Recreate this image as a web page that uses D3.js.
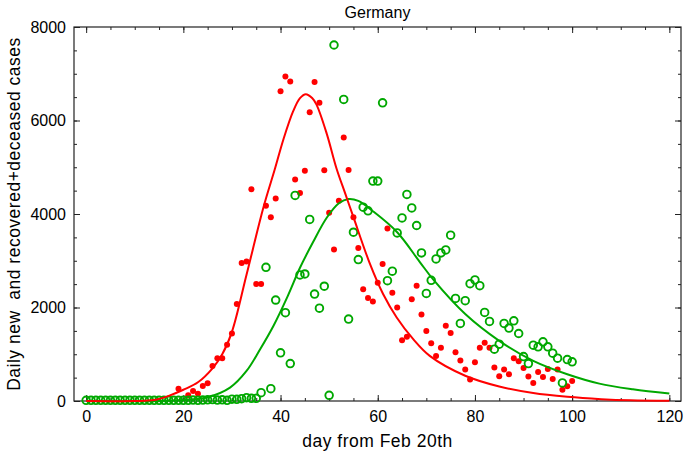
<!DOCTYPE html>
<html>
<head>
<meta charset="utf-8">
<script src="https://cdn.jsdelivr.net/npm/d3@7"></script>
<style>
body { margin: 0; background: #fff; }
text { font-family: "Liberation Sans", Arial, sans-serif; }
</style>
</head>
<body>
<script>
// daily new cases (red dots)
var newDays = [19, 21, 22, 23, 24, 25, 26, 27, 28, 29, 30, 31, 32, 33, 34, 35, 36, 37, 38, 39,
    40, 41, 42, 43, 44, 45, 46, 47, 48, 49, 50, 51, 52, 53, 54, 55, 56, 57, 58, 59,
    60, 61, 62, 63, 64, 65, 66, 67, 68, 69, 70, 71, 72, 73, 74, 75, 76, 77, 78, 79,
    80, 81, 82, 83, 84, 85, 86, 87, 88, 89, 90, 91, 92, 93, 94, 95, 96, 97, 98, 99, 100];
var newCases = [264, 122, 214, 157, 322, 379, 751, 915, 915, 1201, 1444, 2073, 2954, 2982, 4530, 2503, 2503, 4176, 3932, 4330,
    6628, 6943, 6836, 4740, 4447, 4926, 6178, 6821, 6378, 4934, 4026, 3239, 4283, 5635, 4941, 3932, 3275, 2388, 2203, 2130,
    2531, 2932, 3689, 2317, 2002, 1302, 1373, 2174, 2467, 1851, 1495, 1237, 965, 1137, 1609, 1452, 1044, 865, 672, 458,
    829, 1137, 1244, 1137, 715, 529, 672, 572, 915, 851, 708, 522, 386, 622, 515, 686, 472, 672, 243, 315, 429];

// recovered + deceased (green circles)
var recDays = d3.range(0, 51).concat([51, 53, 54, 55, 56, 57, 58, 59,
    60, 61, 62, 63, 64, 65, 66, 67, 68, 69, 70, 71, 72, 73, 74, 75, 76, 77, 78, 79,
    80, 81, 82, 83, 84, 85, 86, 87, 88, 89, 90, 91, 92, 93, 94, 95, 96, 97, 98, 99, 100]);
var recCases = [15, 15, 15, 15, 15, 15, 15, 15, 15, 15, 15, 15, 15, 15, 15, 15, 15, 15, 15, 15,
    15, 15, 20, 15, 20, 25, 30, 20, 25, 15, 40, 36, 50, 72, 57, 57, 178, 2860, 264, 2160,
    1030, 1890, 800, 4397, 2696, 2717, 3885, 2288, 1985, 2455, 122,
    7615, 6450, 1752, 3610, 3025, 4147, 4068, 4704,
    4704, 6378, 2574, 2778, 3596, 3915, 4419, 4130, 3754, 3167, 2302, 2581, 3039, 3167, 3232, 3546, 2195, 1659, 2145, 2510,
    2589, 2467, 1895, 1702, 1108, 1216, 1659, 1559, 1716, 1444, 951, 801, 1194, 1158, 1266, 1158, 1023, 915, 386, 887, 837];

// fitted curves
var newFitDays = [0, 10, 14, 17, 20, 23, 26, 28, 30, 33, 36.5, 38.8, 40.6, 42.6, 44, 45.2, 46.5, 47.4, 49.5, 51.5, 53.3, 55,
    58.4, 61.1, 63.9, 67.3, 70.7, 78, 85, 92, 99, 106, 112, 120];
var newFitVals = [0, 0, 20, 110, 240, 400, 700, 1000, 1480, 2700, 4150, 4950, 5600, 6200, 6480, 6564, 6480, 6340, 5720, 4980, 4440, 3932,
    2932, 2288, 1787, 1323, 965, 540, 310, 170, 90, 40, 15, 5];
var recFitDays = [0, 15, 20, 25, 29.6, 33, 35.8, 38.5, 41.5, 44, 46.7, 49.5, 52, 54, 56, 59, 64, 68.7, 71.4, 78, 85,
    92, 99, 105.6, 112.5, 120];
var recFitVals = [0, 0, 20, 80, 286, 643, 1108, 1600, 2250, 2850, 3400, 3920, 4230, 4320, 4280, 4060, 3610, 2967, 2600, 1860, 1287,
    858, 572, 372, 250, 158];

var xTicks = [0, 20, 40, 60, 80, 100, 120],
    yTicks = [0, 2000, 4000, 6000, 8000];

var w = 685,
    h = 458,
    padLeft = 74,
    padRight = 681,
    padTop = 27,
    padBottom = 401,
    red = "#ff0000",
    green = "#00a800";

var svg = d3.select("body")
    .append("svg")
    .attr("width", w)
    .attr("height", h);

var x = d3.scaleLinear().domain([-2.5, 122.4]).range([padLeft, padRight]);
var y = d3.scaleLinear().domain([0, 8000]).range([padBottom, padTop]);

var minorX = d3.range(0, 125, 5),
    minorY = d3.range(0, 8001, 500);

function noLabel() { return ""; }

// minor ticks on all four sides
svg.append("g").attr("transform", "translate(0," + padBottom + ")")
    .call(d3.axisBottom(x).tickValues(minorX).tickSize(-3).tickFormat(noLabel));
svg.append("g").attr("transform", "translate(0," + padTop + ")")
    .call(d3.axisTop(x).tickValues(minorX).tickSize(-3).tickFormat(noLabel));
svg.append("g").attr("transform", "translate(" + padLeft + ",0)")
    .call(d3.axisLeft(y).tickValues(minorY).tickSize(-3).tickFormat(noLabel));
svg.append("g").attr("transform", "translate(" + padRight + ",0)")
    .call(d3.axisRight(y).tickValues(minorY).tickSize(-3).tickFormat(noLabel));

// major ticks with labels
svg.append("g").attr("transform", "translate(0," + padBottom + ")")
    .call(d3.axisBottom(x).tickValues(xTicks).tickSize(-6).tickPadding(10).tickFormat(d3.format("d")));
svg.append("g").attr("transform", "translate(0," + padTop + ")")
    .call(d3.axisTop(x).tickValues(xTicks).tickSize(-6).tickFormat(noLabel));
svg.append("g").attr("transform", "translate(" + padLeft + ",0)")
    .call(d3.axisLeft(y).tickValues(yTicks).tickSize(-6).tickPadding(8).tickFormat(d3.format("d")));
svg.append("g").attr("transform", "translate(" + padRight + ",0)")
    .call(d3.axisRight(y).tickValues(yTicks).tickSize(-6).tickFormat(noLabel));

svg.selectAll(".domain").remove();
svg.selectAll(".tick line").attr("stroke", "#222").attr("stroke-width", 1);
svg.selectAll(".tick text")
    .attr("font-family", "'Liberation Sans', Arial, sans-serif")
    .attr("font-size", "16px")
    .attr("fill", "#000");

// frame
svg.append("rect")
    .attr("x", padLeft)
    .attr("y", padTop)
    .attr("width", padRight - padLeft)
    .attr("height", padBottom - padTop)
    .attr("fill", "none")
    .attr("stroke", "#222")
    .attr("stroke-width", 1.2);

var plot = svg.append("g");

plot.selectAll("circle.new")
    .data(newDays)
    .enter()
    .append("circle")
    .attr("class", "new")
    .attr("cx", function (d) { return x(d); })
    .attr("cy", function (d, i) { return y(newCases[i]); })
    .attr("r", 3)
    .attr("fill", red);

plot.selectAll("circle.rec")
    .data(recDays)
    .enter()
    .append("circle")
    .attr("class", "rec")
    .attr("cx", function (d) { return x(d); })
    .attr("cy", function (d, i) { return y(recCases[i]); })
    .attr("r", 3.8)
    .attr("fill", "none")
    .attr("stroke", green)
    .attr("stroke-width", 1.9);

var line = d3.line()
    .x(function (d) { return x(d[0]); })
    .y(function (d) { return y(d[1]); })
    .curve(d3.curveCatmullRom.alpha(0.5));

plot.append("path")
    .datum(recFitDays.map(function (d, i) { return [d, recFitVals[i]]; }))
    .attr("d", line)
    .attr("fill", "none")
    .attr("stroke", green)
    .attr("stroke-width", 2);

plot.append("path")
    .datum(newFitDays.map(function (d, i) { return [d, newFitVals[i]]; }))
    .attr("d", line)
    .attr("fill", "none")
    .attr("stroke", red)
    .attr("stroke-width", 2);

svg.append("text")
    .text("Germany")
    .attr("x", (padLeft + padRight) / 2)
    .attr("y", 18)
    .attr("text-anchor", "middle")
    .attr("font-size", "16px");

svg.append("text")
    .text("day from Feb 20th")
    .attr("x", (padLeft + padRight) / 2)
    .attr("y", 447)
    .attr("text-anchor", "middle")
    .attr("font-size", "17.5px")
    .attr("letter-spacing", "0.5px");

svg.append("text")
    .text("Daily new \u00a0and recovered+deceased cases")
    .attr("transform", "translate(20," + ((padTop + padBottom) / 2) + ") rotate(-90)")
    .attr("text-anchor", "middle")
    .attr("font-size", "17.5px")
    .attr("letter-spacing", "0.5px");
</script>
</body>
</html>
